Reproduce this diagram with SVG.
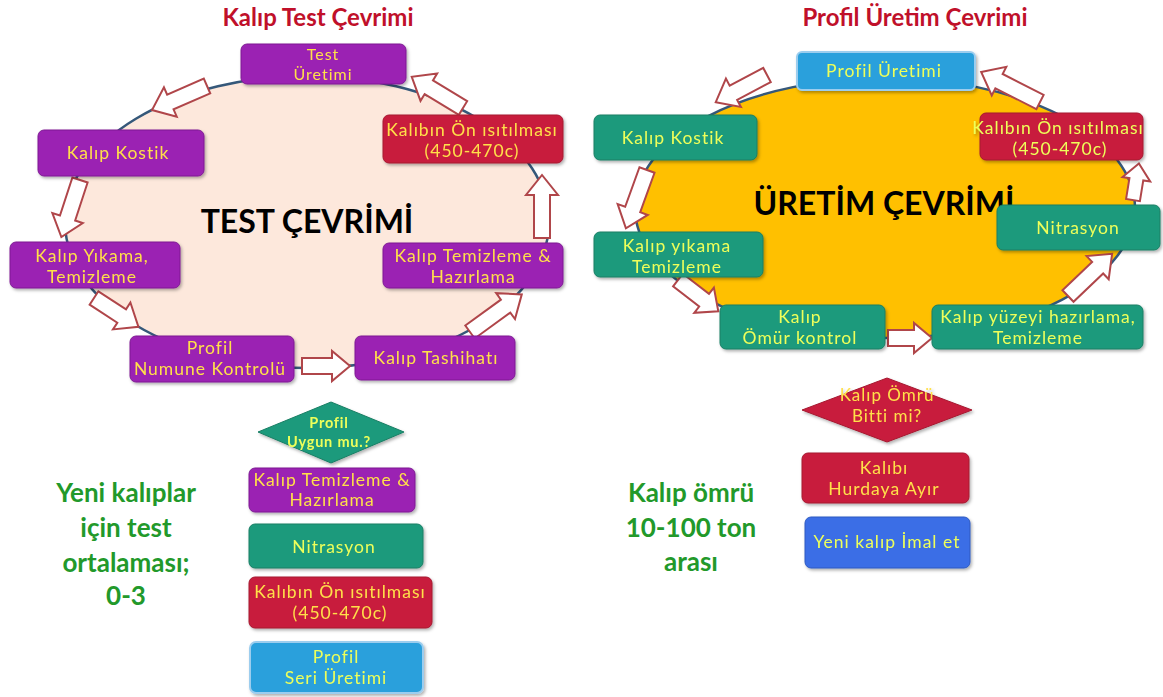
<svg xmlns="http://www.w3.org/2000/svg" width="1163" height="697" viewBox="0 0 1163 697">
<defs>
<style>
.t{font-family:Lato,"Open Sans",sans-serif;font-size:17.5px;letter-spacing:1px;text-anchor:middle;fill:#FFE04A}
.tg{fill:#EEFF5A}
.title{font-family:Lato,sans-serif;font-weight:bold;font-size:24px;text-anchor:middle;fill:#C0102A}
.big{font-family:Lato,sans-serif;font-weight:bold;font-size:32px;text-anchor:middle;fill:#000}
.note{font-family:Lato,sans-serif;font-weight:bold;font-size:26px;text-anchor:middle;fill:#22992A}
.pur{fill:#9B22B3;stroke:#7E1C93;stroke-width:1}
.red{fill:#C81E3C;stroke:#A51830;stroke-width:1}
.grn{fill:#1F9A7B;stroke:#187E64;stroke-width:1}
.blu{fill:#2AA0DC;stroke:#9CCDEE;stroke-width:2}
.blu2{fill:#3A6EE6;stroke:#2F5AC0;stroke-width:1}
.arr{fill:#fff;stroke:#B0464A;stroke-width:2;stroke-linejoin:miter}
.ell{stroke:#35587A;stroke-width:2.5}
</style>
<filter id="sh" x="-10%" y="-10%" width="130%" height="140%"><feDropShadow dx="1.5" dy="2" stdDeviation="1.5" flood-color="#000" flood-opacity="0.3"/></filter>
</defs>
<rect width="1163" height="697" fill="#fff"/>

<text class="title" x="318" y="26">Kalıp Test Çevrimi</text>
<text class="title" x="915" y="26">Profil Üretim Çevrimi</text>

<ellipse class="ell" cx="307" cy="222" rx="242" ry="146" fill="#FDE8DC"/>
<ellipse class="ell" cx="885" cy="208" rx="250" ry="130" fill="#FFC000"/>

<text class="big" x="307" y="233">TEST ÇEVRİMİ</text>
<text class="big" x="884" y="215">ÜRETİM ÇEVRİMİ</text>

<g id="connectors">
<polygon class="arr" transform="translate(207,86) rotate(156.4)" points="0,-8 40,-8 40,-16 60,0 40,16 40,8 0,8"/>
<polygon class="arr" transform="translate(80,180) rotate(108.1)" points="0,-8 40,-8 40,-16 60,0 40,16 40,8 0,8"/>
<polygon class="arr" transform="translate(94,298) rotate(33)" points="0,-8 33,-8 33,-16 53,0 33,16 33,8 0,8"/>
<polygon class="arr" transform="translate(302,366) rotate(0)" points="0,-8 30,-8 30,-15 48,0 30,15 30,8 0,8"/>
<polygon class="arr" transform="translate(470,332) rotate(-36)" points="0,-8 44,-8 44,-16 64,0 44,16 44,8 0,8"/>
<polygon class="arr" transform="translate(542,238) rotate(-90)" points="0,-8 43,-8 43,-16 63,0 43,16 43,8 0,8"/>
<polygon class="arr" transform="translate(463,108) rotate(-148.7)" points="0,-8 40,-8 40,-16 60,0 40,16 40,8 0,8"/>

<polygon class="arr" transform="translate(767,75) rotate(152.1)" points="0,-8 38,-8 38,-16 58,0 38,16 38,8 0,8"/>
<polygon class="arr" transform="translate(647,170) rotate(109.9)" points="0,-8 42,-8 42,-16 62,0 42,16 42,8 0,8"/>
<polygon class="arr" transform="translate(678,280) rotate(37.8)" points="0,-8 33,-8 33,-16 51,0 33,16 33,8 0,8"/>
<polygon class="arr" transform="translate(888,338) rotate(0)" points="0,-8 26,-8 26,-15 44,0 26,15 26,8 0,8"/>
<polygon class="arr" transform="translate(1068,296) rotate(-43.7)" points="0,-8 41,-8 41,-16 61,0 41,16 41,8 0,8"/>
<polygon class="arr" transform="translate(1133,200) rotate(-80.8)" points="0,-7 21,-7 21,-14 37,0 21,14 21,7 0,7"/>
<polygon class="arr" transform="translate(1040,102) rotate(-153)" points="0,-8 46,-8 46,-16 66,0 46,16 46,8 0,8"/>
</g>

<g id="test-uretimi" filter="url(#sh)"><rect class="pur" x="241" y="44" width="165" height="40" rx="6"/><text class="t" style="font-size:16px" x="323" y="60">Test</text><text class="t" style="font-size:16px" x="323" y="80">Üretimi</text></g>
<g id="l-on-isitma" filter="url(#sh)"><rect class="red" x="383" y="115" width="180" height="48" rx="6"/><text class="t" x="472" y="136">Kalıbın Ön ısıtılması</text><text class="t" x="472" y="157">(450-470c)</text></g>
<g id="l-kostik" filter="url(#sh)"><rect class="pur" x="38" y="130" width="166" height="46" rx="6"/><text class="t" x="118" y="159">Kalıp Kostik</text></g>
<g id="l-yikama" filter="url(#sh)"><rect class="pur" x="10" y="242" width="170" height="46" rx="6"/><text class="t" x="92" y="262">Kalıp Yıkama,</text><text class="t" x="92" y="283">Temizleme</text></g>
<g id="l-temizleme" filter="url(#sh)"><rect class="pur" x="383" y="243" width="180" height="45" rx="6"/><text class="t" x="473" y="262">Kalıp Temizleme &amp;</text><text class="t" x="473" y="283">Hazırlama</text></g>
<g id="l-numune" filter="url(#sh)"><rect class="pur" x="130" y="336" width="164" height="46" rx="6"/><text class="t" x="210" y="354">Profil</text><text class="t" x="210" y="375">Numune Kontrolü</text></g>
<g id="l-tashihat" filter="url(#sh)"><rect class="pur" x="355" y="336" width="160" height="44" rx="6"/><text class="t" x="436" y="364">Kalıp Tashihatı</text></g>

<g id="r-profil-uretimi" filter="url(#sh)"><rect class="blu" x="797" y="52" width="178" height="38" rx="5"/><text class="t tg" x="884" y="77">Profil Üretimi</text></g>
<g id="r-kostik" filter="url(#sh)"><rect class="grn" x="594" y="115" width="163" height="45" rx="6"/><text class="t tg" x="673" y="144">Kalıp Kostik</text></g>
<g id="r-on-isitma" filter="url(#sh)"><rect class="red" x="980" y="113" width="163" height="47" rx="6"/><text class="t tg" x="1058" y="134">Kalıbın Ön ısıtılması</text><text class="t tg" x="1060" y="155">(450-470c)</text></g>
<g id="r-nitrasyon" filter="url(#sh)"><rect class="grn" x="997" y="205" width="163" height="45" rx="6"/><text class="t tg" x="1078" y="234">Nitrasyon</text></g>
<g id="r-yikama" filter="url(#sh)"><rect class="grn" x="594" y="232" width="169" height="45" rx="6"/><text class="t tg" x="677" y="252">Kalıp yıkama</text><text class="t tg" x="677" y="273">Temizleme</text></g>
<g id="r-omur" filter="url(#sh)"><rect class="grn" x="720" y="305" width="165" height="44" rx="6"/><text class="t tg" x="800" y="323">Kalıp</text><text class="t tg" x="800" y="344">Ömür kontrol</text></g>
<g id="r-yuzey" filter="url(#sh)"><rect class="grn" x="932" y="305" width="211" height="44" rx="6"/><text class="t tg" x="1038" y="323">Kalıp yüzeyi hazırlama,</text><text class="t tg" x="1038" y="344">Temizleme</text></g>

<g id="d-uygun" filter="url(#sh)"><polygon class="grn" points="258,432 331,402 404,432 331,463"/><text class="t tg" style="font-size:14.5px;font-weight:bold;letter-spacing:0.8px" x="329" y="428">Profil</text><text class="t tg" style="font-size:14.5px;font-weight:bold;letter-spacing:0.8px" x="329" y="447">Uygun mu.?</text></g>
<g id="b-temizleme" filter="url(#sh)"><rect class="pur" x="249" y="468" width="166" height="44" rx="6"/><text class="t" x="332" y="486">Kalıp Temizleme &amp;</text><text class="t" x="332" y="506">Hazırlama</text></g>
<g id="b-nitrasyon" filter="url(#sh)"><rect class="grn" x="249" y="524" width="174" height="44" rx="6"/><text class="t tg" x="334" y="553">Nitrasyon</text></g>
<g id="b-on-isitma" filter="url(#sh)"><rect class="red" x="249" y="577" width="183" height="51" rx="6"/><text class="t" x="340" y="598">Kalıbın Ön ısıtılması</text><text class="t" x="340" y="619">(450-470c)</text></g>
<g id="b-seri" filter="url(#sh)"><rect class="blu" x="250" y="642" width="173" height="51" rx="6"/><text class="t tg" x="336" y="663">Profil</text><text class="t tg" x="336" y="684">Seri Üretimi</text></g>

<g id="d-omur" filter="url(#sh)"><polygon class="red" points="802,410 887,378 972,410 887,442"/><text class="t" style="font-size:17px" x="887" y="401">Kalıp Ömrü</text><text class="t" style="font-size:17px" x="887" y="422">Bitti mi?</text></g>
<g id="b-hurda" filter="url(#sh)"><rect class="red" x="802" y="453" width="167" height="50" rx="6"/><text class="t" x="884" y="474">Kalıbı</text><text class="t" x="884" y="495">Hurdaya Ayır</text></g>
<g id="b-yeni" filter="url(#sh)"><rect class="blu2" x="805" y="517" width="165" height="51" rx="6"/><text class="t tg" x="887" y="548">Yeni kalıp İmal et</text></g>

<g id="note-left"><text class="note" x="126" y="502">Yeni kalıplar</text><text class="note" x="126" y="537">için test</text><text class="note" x="126" y="572">ortalaması;</text><text class="note" x="126" y="605">0-3</text></g>
<g id="note-right"><text class="note" x="691" y="502">Kalıp ömrü</text><text class="note" x="691" y="537">10-100 ton</text><text class="note" x="691" y="571">arası</text></g>
</svg>
